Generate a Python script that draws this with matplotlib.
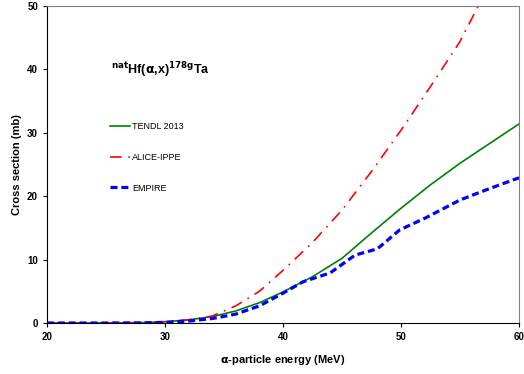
import matplotlib.pyplot as plt

plt.rcParams['font.family'] = ['Liberation Sans', 'DejaVu Sans']

# energies (MeV) and cross sections (mb)
e_tendl = [20, 25, 28, 30, 32, 34, 36, 38, 40, 42.5, 45, 47.5, 50, 52.5, 55, 57.5, 60]
s_tendl = [0, 0, 0.05, 0.2, 0.5, 1.0, 1.9, 3.2, 4.9, 7.3, 10.2, 14.2, 18.1, 21.8, 25.2, 28.3, 31.4]

e_alice = [20, 25, 28, 30, 32, 34, 36, 38, 40, 42.5, 45, 47.5, 50, 52.5, 55, 56.6]
s_alice = [0, 0, 0.05, 0.2, 0.5, 1.1, 2.7, 5.0, 8.3, 12.7, 17.8, 23.9, 30.4, 37.3, 44.4, 50.2]

e_empire = [20, 25, 28, 30, 32, 34, 36, 38, 40, 41.7, 44, 46.1, 48, 49.9, 52, 55, 57.5, 60]
s_empire = [0, 0, 0.02, 0.1, 0.3, 0.7, 1.4, 2.7, 4.7, 6.5, 7.9, 10.7, 11.7, 14.7, 16.5, 19.4, 21.2, 22.9]

fig = plt.figure(figsize=(5.24, 3.74), dpi=100)
ax = fig.add_axes([0.0897, 0.1364, 0.9008, 0.8476])

ax.plot(e_tendl, s_tendl, color='#008000', lw=1.2, label='TENDL 2013')
ax.plot(e_alice, s_alice, color='red', lw=1.2, dashes=(7, 4, 1, 4), label='ALICE-IPPE')
ax.plot(e_empire, s_empire, color='blue', lw=2.3, dashes=(2.2, 1.2), label='EMPIRE')

ax.set_xlim(20, 60)
ax.set_ylim(0, 50)
ax.set_xticks([20, 30, 40, 50, 60])
ax.set_yticks([0, 10, 20, 30, 40, 50])
ax.tick_params(labelsize=7, length=3, width=0.8)
for lab in ax.get_xticklabels() + ax.get_yticklabels():
    lab.set_fontweight('bold')
ax.spines['top'].set_color('#808080')
ax.spines['right'].set_color('#808080')

ax.set_xlabel(r'$\mathbf{\alpha}$-particle energy (MeV)', fontsize=8, fontweight='bold', labelpad=8)
ax.set_ylabel('Cross section (mb)', fontsize=8, fontweight='bold', labelpad=4)

# reaction label with small superscripts
ax.text(0.135, 0.785, r'$^{\mathbf{nat}}$Hf($\mathbf{\alpha}$,x)$^{\mathbf{178g}}$Ta',
        transform=ax.transAxes, fontsize=9, fontweight='bold')

ax.legend(loc=(0.125, 0.4), frameon=False, fontsize=6.5, handlelength=2.3,
          handletextpad=0.2, labelspacing=2.4)

fig.savefig('out.png', dpi=100)
